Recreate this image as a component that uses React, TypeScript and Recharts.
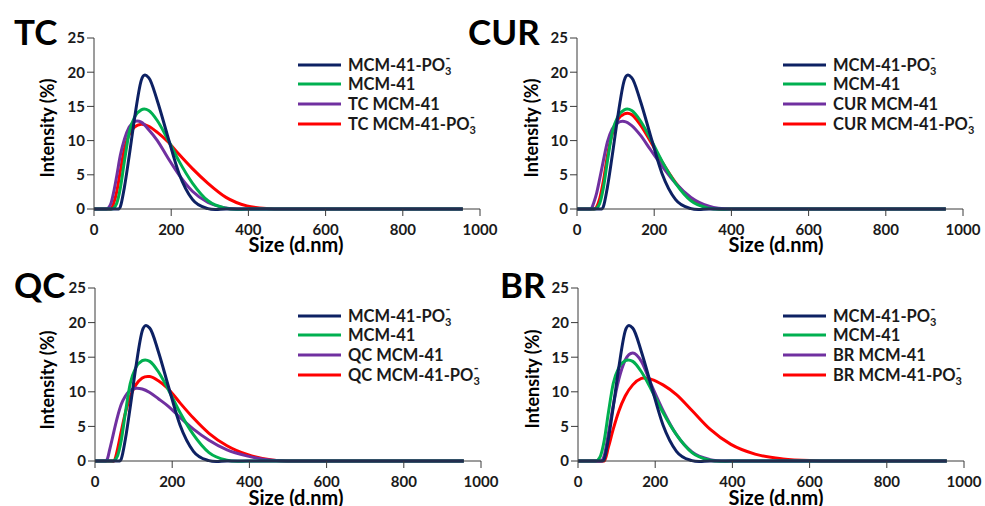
import { LineChart, Line, XAxis, YAxis } from "recharts";

// DLS size bins (d.nm)
const SIZES = [0.4, 1.499, 5.615, 10.1, 15.69, 21.04, 28.21, 32.67, 37.84, 43.82, 50.75, 58.77, 68.06, 78.82, 91.28, 105.7, 122.4, 141.8, 164.2, 190.1, 220.2, 255, 295.3, 342, 396.1, 458.7, 531.2, 615.1, 712.4, 825, 955.4];

// reference samples, same in every panel
const REF_PO3 = [0, 0, 0, 0, 0, 0, 0, 0, 0, 0, 0, 0, 0.3, 3.2, 7.8, 13.5, 18.8, 19.2, 15.8, 10.8, 5.2, 1.4, 0.05, 0, 0, 0, 0, 0, 0, 0, 0];
const REF_MCM = [0, 0, 0, 0, 0, 0, 0, 0, 0, 0, 0.1, 0.8, 3.0, 7.0, 11.2, 13.5, 14.5, 14.4, 12.9, 10.3, 7.0, 3.8, 1.2, 0.1, 0, 0, 0, 0, 0, 0, 0];

const TC_MCM = [0, 0, 0, 0, 0, 0, 0, 0, 0.2, 0.8, 2.4, 4.8, 7.8, 10.2, 12.0, 12.8, 12.7, 11.6, 10.0, 7.6, 5.0, 2.6, 0.95, 0.15, 0, 0, 0, 0, 0, 0, 0];
const TC_PO3 = [0, 0, 0, 0, 0, 0, 0, 0, 0, 0, 0.8, 2.5, 5.5, 8.8, 10.9, 12.0, 12.4, 12.1, 11.2, 9.9, 8.0, 5.9, 3.75, 1.7, 0.45, 0.05, 0, 0, 0, 0, 0];

const CUR_MCM = [0, 0, 0, 0, 0, 0, 0, 0, 0.1, 1.0, 2.3, 4.4, 7.0, 9.8, 11.7, 12.6, 12.8, 12.2, 10.8, 8.7, 6.3, 3.8, 1.7, 0.4, 0, 0, 0, 0, 0, 0, 0];
const CUR_PO3 = [0, 0, 0, 0, 0, 0, 0, 0, 0, 0, 0.3, 1.5, 4.0, 7.8, 11.0, 13.1, 13.9, 13.8, 12.3, 9.9, 6.9, 3.9, 1.4, 0.2, 0, 0, 0, 0, 0, 0, 0];

const QC_MCM = [0, 0, 0, 0, 0, 0, 0, 0.4, 1.6, 3.0, 4.7, 6.5, 8.2, 9.4, 10.2, 10.5, 10.4, 9.9, 9.0, 7.9, 6.3, 4.6, 3.0, 1.6, 0.7, 0.1, 0, 0, 0, 0, 0];
const QC_PO3 = [0, 0, 0, 0, 0, 0, 0, 0, 0, 0, 0.1, 1.8, 4.3, 7.0, 9.3, 11.0, 12.0, 12.2, 11.6, 10.4, 8.4, 6.2, 4.0, 2.2, 0.9, 0.15, 0, 0, 0, 0, 0];

const BR_MCM = [0, 0, 0, 0, 0, 0, 0, 0, 0, 0, 0, 0, 0.8, 4.0, 8.0, 11.8, 14.6, 15.6, 14.4, 11.0, 7.3, 3.8, 1.3, 0.2, 0, 0, 0, 0, 0, 0, 0];
const BR_PO3 = [0, 0, 0, 0, 0, 0, 0, 0, 0, 0, 0, 0, 0, 2.0, 4.6, 7.2, 9.4, 11.0, 11.95, 11.8, 11.0, 9.6, 7.3, 4.6, 2.4, 1.0, 0.3, 0.05, 0, 0, 0];

const X_TICKS = [0, 200, 400, 600, 800, 1000];
const Y_TICKS = [0, 5, 10, 15, 20, 25];

const NAVY = "#0d2163";
const GREEN = "#00b050";
const PURPLE = "#7030a0";
const RED = "#ff0000";
const AXIS = "#3a3a3a";
const FONT = "Lato, 'Open Sans', sans-serif";

const panels = [
  { name: "TC", mcm: TC_MCM, po3: TC_PO3, x: 0, y: 0, w: 500, margin: { top: 38, right: 20, bottom: 14, left: 54 }, nameX: 14, legX: 298, legRows: [65, 84, 104, 124], sizeX: 296, intX: 47, intY: 128 },
  { name: "CUR", mcm: CUR_MCM, po3: CUR_PO3, x: 490, y: 0, w: 495, margin: { top: 38, right: 22, bottom: 14, left: 47 }, nameX: 468, legX: 293, legRows: [65, 84, 104, 124], sizeX: 776, intX: 531, intY: 128 },
  { name: "QC", mcm: QC_MCM, po3: QC_PO3, x: 0, y: 253, w: 500, margin: { top: 35, right: 19, bottom: 15, left: 55 }, nameX: 14, legX: 298, legRows: [63, 82, 102, 122], sizeX: 296, intX: 47, intY: 380 },
  { name: "BR", mcm: BR_MCM, po3: BR_PO3, x: 490, y: 253, w: 495, margin: { top: 35, right: 21, bottom: 15, left: 48 }, nameX: 500, legX: 293, legRows: [63, 82, 102, 122], sizeX: 776, intX: 532, intY: 379 },
];

const tickStyle = { fill: "#1a1a1a", fontSize: 15, fontWeight: 700, fontFamily: FONT };

// smoothed line: cubic Hermite, tangent from the parabola through three
// neighbours, kept flat at the low points so zero runs stay on the axis
function smoothCurve(context: any) {
  let xs: number[] = [];
  let ys: number[] = [];
  return {
    areaStart() {},
    areaEnd() {},
    lineStart() {
      xs = [];
      ys = [];
    },
    point(x: number, y: number) {
      xs.push(+x);
      ys.push(+y);
    },
    lineEnd() {
      const n = xs.length;
      if (!n) return;
      const m = xs.map((_, i) => {
        if (i === 0 || i === n - 1) return 0;
        if (ys[i] >= ys[i - 1] && ys[i] >= ys[i + 1]) return 0;
        const h0 = xs[i] - xs[i - 1];
        const h1 = xs[i + 1] - xs[i];
        const d0 = (ys[i] - ys[i - 1]) / h0;
        const d1 = (ys[i + 1] - ys[i]) / h1;
        return (h1 * d0 + h0 * d1) / (h0 + h1);
      });
      context.moveTo(xs[0], ys[0]);
      for (let i = 0; i < n - 1; i++) {
        const h = xs[i + 1] - xs[i];
        context.bezierCurveTo(xs[i] + h / 3, ys[i] + (m[i] * h) / 3, xs[i + 1] - h / 3, ys[i + 1] - (m[i + 1] * h) / 3, xs[i + 1], ys[i + 1]);
      }
    },
  };
}

function Po3Label({ prefix }: { prefix: string }) {
  return (
    <>
      {prefix}MCM-41-PO
      <tspan fontSize={11} dy={4}>3</tspan>
      <tspan fontSize={13} dx={-6} dy={-12}>-</tspan>
    </>
  );
}

function Panel({ p }: { p: (typeof panels)[number] }) {
  const rows = SIZES.map((s, i) => ({ size: s, refPo3: REF_PO3[i], refMcm: REF_MCM[i], mcm: p.mcm[i], po3: p.po3[i] }));
  const legend = [
    { color: NAVY, label: <Po3Label prefix="" /> },
    { color: GREEN, label: "MCM-41" },
    { color: PURPLE, label: `${p.name} MCM-41` },
    { color: RED, label: <Po3Label prefix={`${p.name} `} /> },
  ];
  return (
    <div style={{ position: "absolute", left: p.x, top: p.y }}>
      <LineChart width={p.w} height={253} data={rows} margin={p.margin}>
        <XAxis
          type="number"
          dataKey="size"
          domain={[0, 1000]}
          ticks={X_TICKS}
          height={30}
          tickSize={7}
          tickMargin={8}
          tick={tickStyle}
          stroke={AXIS}
          allowDataOverflow
        />
        <YAxis
          domain={[0, 25]}
          ticks={Y_TICKS}
          width={40}
          tickSize={7}
          tickMargin={2}
          tick={tickStyle}
          stroke={AXIS}
        />
        <Line type={smoothCurve as any} dataKey="po3" stroke={RED} strokeWidth={3} dot={false} isAnimationActive={false} />
        <Line type={smoothCurve as any} dataKey="mcm" stroke={PURPLE} strokeWidth={3} dot={false} isAnimationActive={false} />
        <Line type={smoothCurve as any} dataKey="refMcm" stroke={GREEN} strokeWidth={3} dot={false} isAnimationActive={false} />
        <Line type={smoothCurve as any} dataKey="refPo3" stroke={NAVY} strokeWidth={3} dot={false} isAnimationActive={false} />
      </LineChart>
      <svg width={p.w} height={253} style={{ position: "absolute", left: 0, top: 0, pointerEvents: "none" }}>
        {legend.map((l, i) => (
          <g key={i}>
            <line x1={p.legX} x2={p.legX + 43} y1={p.legRows[i]} y2={p.legRows[i]} stroke={l.color} strokeWidth={3} />
            <text x={p.legX + 50} y={p.legRows[i] + 6} fontSize={16.5} fontWeight={700} fontFamily={FONT} fill="#1a1a1a">
              {l.label}
            </text>
          </g>
        ))}
      </svg>
    </div>
  );
}

export default function App() {
  return (
    <div style={{ position: "absolute", left: 0, top: 0, width: 985, height: 506, background: "#fff", overflow: "hidden" }}>
      {panels.map((p) => (
        <Panel key={p.name} p={p} />
      ))}
      <svg width={985} height={506} style={{ position: "absolute", left: 0, top: 0, pointerEvents: "none" }}>
        {panels.map((p) => (
          <g key={p.name} fontFamily={FONT} fontWeight={700} fill="#000">
            <text x={p.nameX} y={p.y + 45} fontSize={35}>{p.name}</text>
            <text x={p.sizeX} y={p.y + 252} fontSize={20} textAnchor="middle">Size (d.nm)</text>
            <text
              x={p.intX}
              y={p.intY}
              fontSize={18}
              textAnchor="middle"
              dominantBaseline="central"
              transform={`rotate(-90, ${p.intX}, ${p.intY})`}
            >
              Intensity (%)
            </text>
          </g>
        ))}
      </svg>
    </div>
  );
}
